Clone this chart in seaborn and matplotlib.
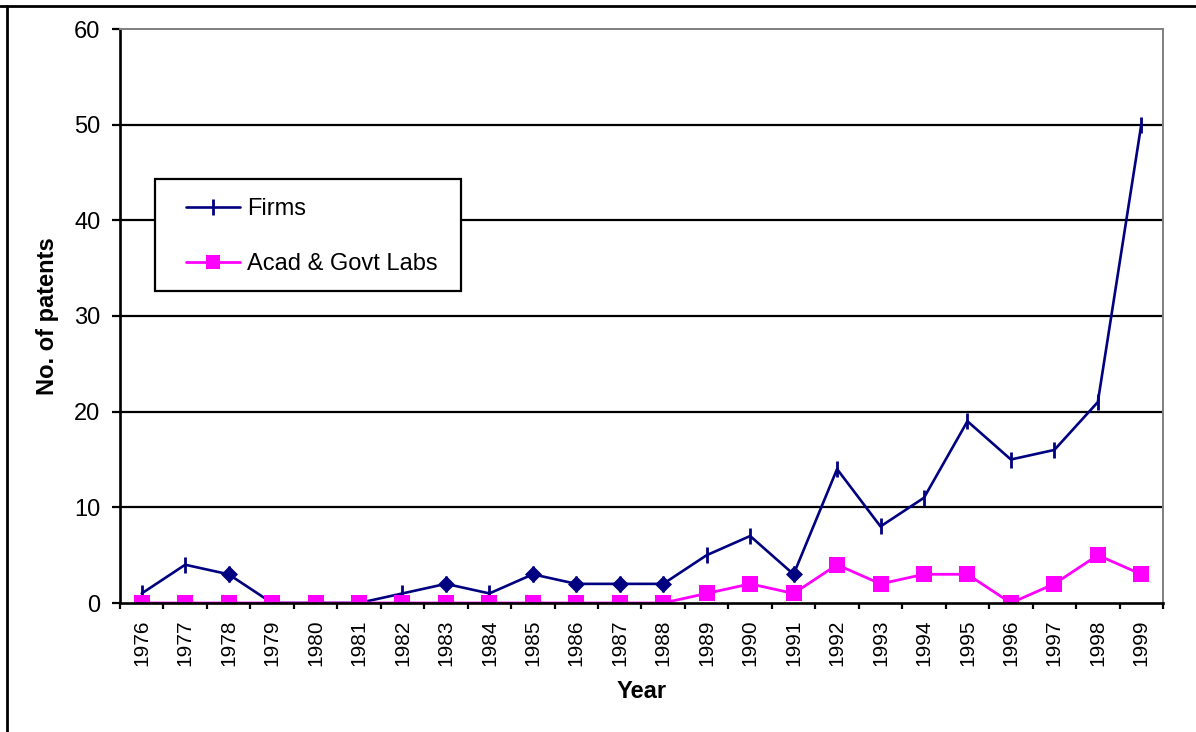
"""
Patents per year: firms vs academic & government labs, 1976-1999.
"""

import matplotlib
matplotlib.use('Agg')
import matplotlib.pyplot as plt
from matplotlib.lines import Line2D
from matplotlib.patches import Rectangle
import pandas as pd
import seaborn as sns

# Data
years = [1976, 1977, 1978, 1979, 1980, 1981, 1982, 1983, 1984, 1985, 1986, 1987,
         1988, 1989, 1990, 1991, 1992, 1993, 1994, 1995, 1996, 1997, 1998, 1999]
firms = [1, 4, 3, 0, 0, 0, 1, 2, 1, 3, 2, 2,
         2, 5, 7, 3, 14, 8, 11, 19, 15, 16, 21, 50]
acad_govt = [0, 0, 0, 0, 0, 0, 0, 0, 0, 0, 0, 0,
             0, 1, 2, 1, 4, 2, 3, 3, 0, 2, 5, 3]
# years where the Firms point shows as a diamond instead of a tick
diamond_years = [1978, 1983, 1985, 1986, 1987, 1988, 1991]
y_ticks = [0, 10, 20, 30, 40, 50, 60]

NAVY = '#000080'
MAGENTA = '#FF00FF'
FS = 17
FS_X = 15

df = pd.DataFrame({'year': years, 'firms': firms, 'acad': acad_govt})
df['idx'] = range(len(df))
dia = df[df['year'].isin(diamond_years)]

sns.set_style('white')
plt.rcParams['font.family'] = ['Liberation Sans', 'DejaVu Sans']
for key in ['text.color', 'axes.labelcolor', 'xtick.color', 'ytick.color']:
    plt.rcParams[key] = 'black'

fig = plt.figure(figsize=(11.96, 7.32), dpi=100)
W, H = 1196, 732
ax = fig.add_axes([120 / W, 1 - 603 / H, 1043 / W, (603 - 29) / H])

# gridlines
for v in y_ticks[1:-1]:
    ax.axhline(v, color='black', linewidth=1.6, zorder=1)

sns.lineplot(data=df, x='idx', y='firms', color=NAVY, linewidth=1.9,
             marker='|', markersize=12, markeredgewidth=2,
             markeredgecolor=NAVY, ax=ax, legend=False, zorder=3)
sns.scatterplot(data=dia, x='idx', y='firms', color=NAVY, marker='D', s=75,
                edgecolor=NAVY, linewidth=0, ax=ax, legend=False, zorder=4)
sns.lineplot(data=df, x='idx', y='acad', color=MAGENTA, linewidth=2,
             marker='s', markersize=11, markeredgewidth=0,
             ax=ax, legend=False, zorder=5)

ax.set_xlim(-0.5, len(years) - 0.5)
ax.set_ylim(0, 60)
ax.set_yticks(y_ticks)
ax.set_yticklabels([str(v) for v in y_ticks], fontsize=FS)
ax.set_xticks(range(len(years)))
ax.set_xticklabels([str(y) for y in years], rotation=90, fontsize=FS_X)
ax.set_xticks([i - 0.5 for i in range(len(years) + 1)], minor=True)
ax.tick_params(axis='x', which='major', length=0, pad=12)
ax.tick_params(axis='x', which='minor', direction='out', length=4.5, width=1.6,
               color='black', bottom=True)
ax.tick_params(axis='y', direction='out', length=6, width=1.6, color='black',
               left=True, pad=8)

for side in ['left', 'bottom']:
    ax.spines[side].set_color('black')
    ax.spines[side].set_linewidth(1.9)
for side in ['top', 'right']:
    ax.spines[side].set_color('#808080')
    ax.spines[side].set_linewidth(1.4)
ax.spines['bottom'].set_zorder(6)

ax.set_xlabel('Year', fontsize=FS, fontweight='bold', labelpad=10)
ax.set_ylabel('No. of patents', fontsize=FS, fontweight='bold', labelpad=11)

# legend box drawn separately so the padding matches
box = Rectangle((155 / W, 1 - 291 / H), 306 / W, 112 / H,
                transform=fig.transFigure, facecolor='white',
                edgecolor='black', linewidth=1.6, zorder=9, clip_on=False)
ax.add_patch(box)

handles = [
    Line2D([], [], color=NAVY, linewidth=1.9, marker='|', markersize=12,
           markeredgewidth=2),
    Line2D([], [], color=MAGENTA, linewidth=2, marker='s', markersize=10.5,
           markeredgewidth=0),
]
leg = ax.legend(handles, ['Firms', 'Acad & Govt Labs'], loc='center left',
                bbox_to_anchor=(186 / W, 1 - 236.5 / H),
                bbox_transform=fig.transFigure, fontsize=FS, frameon=False,
                handlelength=2.3, handletextpad=0.27, labelspacing=1.38,
                borderpad=0, borderaxespad=0)
leg.set_zorder(10)

# outer chart border (top and left edges)
fig.add_artist(Line2D([0, 1], [1 - 6 / H, 1 - 6 / H], color='black',
                      linewidth=2, transform=fig.transFigure))
fig.add_artist(Line2D([7 / W, 7 / W], [0, 1 - 6 / H], color='black',
                      linewidth=2, transform=fig.transFigure))

fig.savefig('out.png', dpi=100)
plt.close(fig)
